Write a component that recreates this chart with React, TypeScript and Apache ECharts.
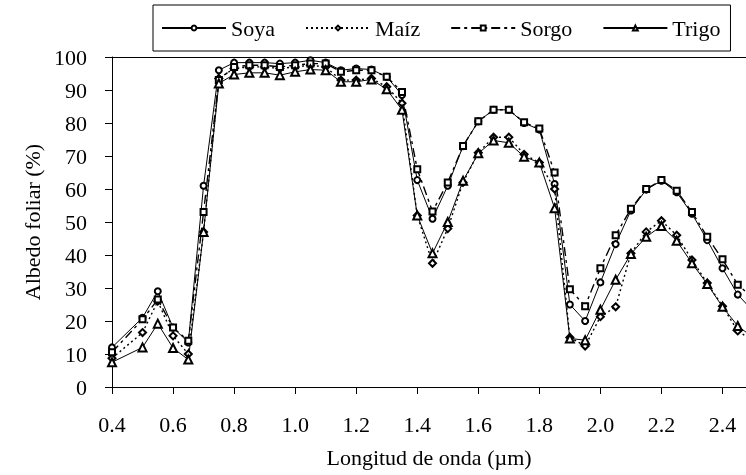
import React, { useEffect, useRef } from "react";
import * as echarts from "echarts";

// Wavelength (µm) of each measurement
const wavelengths = [
  0.4, 0.5, 0.55, 0.6, 0.65, 0.7, 0.75, 0.8, 0.85, 0.9, 0.95, 1.0, 1.05, 1.1,
  1.15, 1.2, 1.25, 1.3, 1.35, 1.4, 1.45, 1.5, 1.55, 1.6, 1.65, 1.7, 1.75, 1.8,
  1.85, 1.9, 1.95, 2.0, 2.05, 2.1, 2.15, 2.2, 2.25, 2.3, 2.35, 2.4, 2.45, 2.5,
];

// Leaf albedo (%) per crop
const soya = [
  12, 21, 29, 18, 13.5, 61, 96, 98.3, 98.3, 98.3, 98, 98.3, 99, 98.3, 96, 96.5,
  96.2, 94, 88.5, 62.7, 51, 61, 73, 80.5, 84, 84, 80, 78, 61.5, 25, 20, 31.7,
  43.3, 53.5, 59.8, 62.5, 59, 52.5, 44.5, 36, 28, 23,
];
const maiz = [
  8.7, 16.5, 26, 15.5, 10, 47, 93.5, 96.5, 97, 97, 96.5, 97, 97.5, 97, 93, 93,
  93.5, 91, 86, 52, 37.5, 48, 62, 71, 75.7, 75.7, 70.5, 68, 60, 15, 12.4, 21.3,
  24.3, 40.5, 47, 50.4, 46, 38.5, 31.5, 24.5, 17, 14,
];
const sorgo = [
  10.5, 20.5, 26.5, 18, 14, 53, 93, 97, 97.5, 97.5, 97, 97.5, 98, 98, 95.5, 96,
  96, 94, 89.4, 66, 53.2, 62, 73, 80.5, 84, 84, 80.2, 78.3, 65, 29.6, 24.5, 36,
  46, 54, 60, 62.7, 59.5, 53, 45.5, 38.7, 31, 27,
];
const trigo = [
  7.5, 12, 19.2, 11.8, 8.3, 47, 92, 94.7, 95.2, 95.2, 94.5, 95.5, 96.2, 96,
  92.5, 92.5, 93.2, 90.2, 84, 52, 40.5, 50, 62.5, 70.8, 74.7, 74, 69.8, 68,
  54.2, 14.7, 14.2, 23.4, 32.5, 40.3, 45.5, 48.8, 44.3, 37.5, 31.2, 24.3, 18.5,
  15,
];

const xTicks = [0.4, 0.6, 0.8, 1.0, 1.2, 1.4, 1.6, 1.8, 2.0, 2.2, 2.4];

const FONT = "Liberation Serif";

const pairs = (ys: number[]) => wavelengths.map((x, i) => [x, ys[i]]);

export default function App() {
  const ref = useRef<HTMLDivElement>(null);

  useEffect(() => {
    const chart = echarts.init(ref.current!, null, { renderer: "svg" });

    const line = (
      name: string,
      data: number[],
      symbol: string,
      symbolSize: number,
      lineStyle: Record<string, unknown>
    ) => ({
      name,
      type: "line",
      data: pairs(data),
      symbol,
      symbolSize,
      itemStyle: { color: "#000", borderWidth: 1 },
      lineStyle: { color: "#000", width: 1, ...lineStyle },
    });

    chart.setOption({
      animation: false,
      textStyle: { fontFamily: FONT, color: "#000" },
      legend: {
        left: 153,
        top: 5,
        padding: [12, 10, 12, 8],
        itemGap: 30,
        itemWidth: 64,
        itemHeight: 6,
        borderColor: "#000",
        borderWidth: 1,
        textStyle: { fontFamily: FONT, fontSize: 22, color: "#000" },
        data: ["Soya", "Maíz", "Sorgo", "Trigo"],
      },
      grid: { left: 112, top: 57, right: 0, bottom: 88 },
      xAxis: [
        {
          type: "value",
          min: 0.4,
          max: 2.477,
          name: "Longitud de onda (µm)",
          nameLocation: "middle",
          nameGap: 59,
          nameTextStyle: { fontFamily: FONT, fontSize: 22, color: "#000" },
          axisLine: { lineStyle: { color: "#000", width: 1 } },
          axisTick: { length: 7, lineStyle: { color: "#000" }, customValues: xTicks },
          axisLabel: {
            fontFamily: FONT,
            fontSize: 22,
            color: "#000",
            margin: 26,
            customValues: xTicks,
            formatter: (v: number) => v.toFixed(1),
          },
          splitLine: { show: false },
        },
        {
          // plain frame line along the top of the plot
          type: "value",
          position: "top",
          min: 0.4,
          max: 2.477,
          axisLine: { show: true, lineStyle: { color: "#000", width: 1 } },
          axisTick: { show: false },
          axisLabel: { show: false },
          splitLine: { show: false },
        },
      ],
      yAxis: {
        type: "value",
        min: 0,
        max: 100,
        interval: 10,
        name: "Albedo foliar (%)",
        nameLocation: "middle",
        nameGap: 69,
        nameTextStyle: { fontFamily: FONT, fontSize: 22, color: "#000" },
        axisLine: { show: true, lineStyle: { color: "#000", width: 1 } },
        axisTick: { show: true, length: 7, lineStyle: { color: "#000" } },
        axisLabel: { fontFamily: FONT, fontSize: 22, color: "#000", margin: 25 },
        splitLine: { show: false },
      },
      series: [
        line("Soya", soya, "emptyCircle", 6, { type: "solid" }),
        line("Maíz", maiz, "emptyDiamond", 7, { type: [2, 3], width: 1.4 }),
        line("Sorgo", sorgo, "emptyRect", 6, { type: [9, 4, 3, 4], width: 1.4 }),
        line("Trigo", trigo, "emptyTriangle", 8, { type: "solid" }),
      ],
    });

    return () => chart.dispose();
  }, []);

  return (
    <div
      ref={ref}
      style={{ position: "fixed", left: 0, top: 0, width: 746, height: 475 }}
    />
  );
}
